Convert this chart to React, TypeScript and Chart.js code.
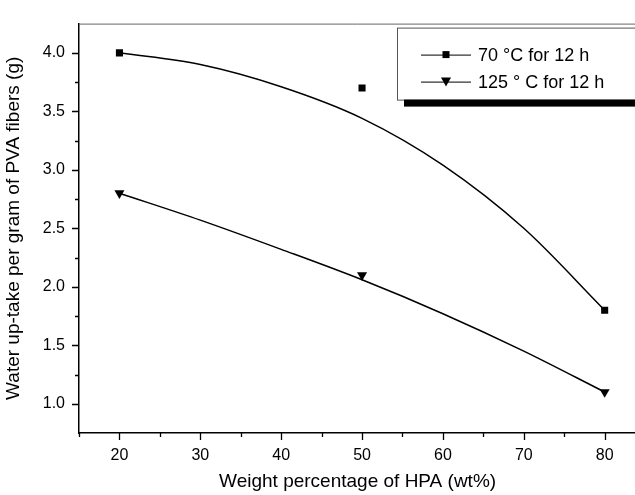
import React, { useEffect, useRef } from "react";
import { Chart, registerables } from "chart.js";

Chart.register(...registerables);

// ---- data ----
const hpaContent = [20, 50, 80];
const uptake70C = [4.0, 3.7, 1.8];
const uptake125C = [2.8, 2.1, 1.1];
const fitX = [20, 30, 40, 50, 60, 70, 80];
const fit70C = [4.0, 3.9, 3.71, 3.44, 3.04, 2.5, 1.8];
const fit125C = [2.8, 2.57, 2.32, 2.06, 1.77, 1.45, 1.1];
const label70 = "70 \u00B0C for 12 h";
const label125 = "125 \u00B0 C for 12 h";
const xTicks = [20, 30, 40, 50, 60, 70, 80];
const xMinorTicks = [15, 25, 35, 45, 55, 65, 75];
const yTicks = [1.0, 1.5, 2.0, 2.5, 3.0, 3.5, 4.0];
const yMinorTicks = [1.25, 1.75, 2.25, 2.75, 3.25, 3.75];
const xTitle = "Weight percentage of HPA (wt%)";
const yTitle = "Water up-take per gram of PVA fibers (g)";

const FONT = "'Liberation Sans', Arial, Helvetica, sans-serif";

function drawMarker(ctx: CanvasRenderingContext2D, style: string, x: number, y: number) {
  ctx.save();
  ctx.fillStyle = "#000";
  if (style === "rect") {
    ctx.fillRect(x - 3.5, y - 3.5, 7, 7);
  } else {
    ctx.beginPath();
    ctx.moveTo(x - 5, y - 4);
    ctx.lineTo(x + 5, y - 4);
    ctx.lineTo(x, y + 5);
    ctx.closePath();
    ctx.fill();
  }
  ctx.restore();
}

const framePlugin = {
  id: "frame",
  afterDraw(chart: any) {
    const { ctx, chartArea } = chart;
    const xs = chart.scales.x;
    const ys = chart.scales.y;
    ctx.save();
    // top frame line
    ctx.strokeStyle = "#666";
    ctx.lineWidth = 1;
    ctx.beginPath();
    ctx.moveTo(chartArea.left, chartArea.top + 0.5);
    ctx.lineTo(chartArea.right, chartArea.top + 0.5);
    ctx.stroke();
    // ticks
    ctx.strokeStyle = "#000";
    ctx.lineWidth = 1.3;
    const b = chartArea.bottom;
    const l = chartArea.left;
    ctx.beginPath();
    xTicks.forEach((v) => {
      const px = Math.round(xs.getPixelForValue(v)) + 0.5;
      ctx.moveTo(px, b);
      ctx.lineTo(px, b + 7);
    });
    xMinorTicks.forEach((v) => {
      const px = Math.round(xs.getPixelForValue(v)) + 0.5;
      ctx.moveTo(px, b);
      ctx.lineTo(px, b + 4);
    });
    yTicks.forEach((v) => {
      const py = Math.round(ys.getPixelForValue(v)) + 0.5;
      ctx.moveTo(l, py);
      ctx.lineTo(l - 7, py);
    });
    yMinorTicks.forEach((v) => {
      const py = Math.round(ys.getPixelForValue(v)) + 0.5;
      ctx.moveTo(l, py);
      ctx.lineTo(l - 4, py);
    });
    ctx.stroke();

    // legend box (positioned relative to the x scale)
    const bx = Math.round(xs.getPixelForValue(54.3));
    const by = chartArea.top + 4;
    const bh = 72;
    ctx.fillStyle = "#fff";
    ctx.fillRect(bx, by, 300, bh);
    ctx.strokeStyle = "#555";
    ctx.lineWidth = 1;
    ctx.strokeRect(bx + 0.5, by + 0.5, 300, bh);
    ctx.fillStyle = "#000";
    ctx.fillRect(bx + 7, by + bh, 300, 7);

    const items = chart.data.datasets.filter((d: any) => d.legend);
    items.forEach((d: any, i: number) => {
      const yy = by + 27 + i * 27;
      ctx.strokeStyle = "#000";
      ctx.lineWidth = 1;
      ctx.beginPath();
      ctx.moveTo(bx + 24, yy + 0.5);
      ctx.lineTo(bx + 74, yy + 0.5);
      ctx.stroke();
      drawMarker(ctx, d.pointStyle, bx + 49, yy);
      ctx.fillStyle = "#000";
      ctx.font = `18px ${FONT}`;
      ctx.textBaseline = "middle";
      ctx.textAlign = "left";
      ctx.fillText(d.label, bx + 81, yy + 1);
    });
    ctx.restore();
  },
};

export default function App() {
  const ref = useRef<HTMLCanvasElement | null>(null);

  useEffect(() => {
    if (!ref.current) return;
    const chart = new Chart(ref.current, {
      type: "line",
      data: {
        datasets: [
          {
            label: "fit70",
            data: fitX.map((x, i) => ({ x, y: fit70C[i] })),
            borderColor: "#000",
            borderWidth: 1.5,
            pointRadius: 0,
            cubicInterpolationMode: "monotone",
            fill: false,
          },
          {
            label: "fit125",
            data: fitX.map((x, i) => ({ x, y: fit125C[i] })),
            borderColor: "#000",
            borderWidth: 1.5,
            pointRadius: 0,
            cubicInterpolationMode: "monotone",
            fill: false,
          },
          {
            label: label70,
            legend: true,
            data: hpaContent.map((x, i) => ({ x, y: uptake70C[i] })),
            showLine: false,
            pointStyle: "rect",
            pointRadius: 5,
            backgroundColor: "#000",
            borderColor: "#000",
            borderWidth: 0,
          } as any,
          {
            label: label125,
            legend: true,
            data: hpaContent.map((x, i) => ({ x, y: uptake125C[i] })),
            showLine: false,
            pointStyle: "triangle",
            pointRotation: 180,
            pointRadius: 5.8,
            backgroundColor: "#000",
            borderColor: "#000",
            borderWidth: 0,
          } as any,
        ],
      },
      options: {
        animation: false,
        responsive: true,
        maintainAspectRatio: false,
        layout: { padding: { top: 12, right: 0, bottom: 0, left: 0 } },
        plugins: {
          legend: { display: false },
          tooltip: { enabled: false },
        },
        scales: {
          x: {
            type: "linear",
            min: 15,
            max: 83.9,
            afterBuildTicks: (s: any) => {
              s.ticks = xTicks.map((v) => ({ value: v }));
            },
            afterFit: (s: any) => {
              s.height = 62;
            },
            grid: { display: false, drawTicks: false },
            border: { display: true, color: "#000", width: 1.5 },
            ticks: {
              color: "#000",
              font: { family: FONT, size: 16 },
              padding: 13,
              maxRotation: 0,
              autoSkip: false,
            },
            title: {
              display: true,
              text: xTitle,
              color: "#000",
              font: { family: FONT, size: 19 },
              padding: { top: 0, bottom: 2 },
            },
          },
          y: {
            type: "linear",
            min: 0.75,
            max: 4.25,
            afterBuildTicks: (s: any) => {
              s.ticks = yTicks.map((v) => ({ value: v }));
            },
            afterFit: (s: any) => {
              s.width = 79;
            },
            grid: { display: false, drawTicks: false },
            border: { display: true, color: "#000", width: 1.5 },
            ticks: {
              color: "#000",
              font: { family: FONT, size: 16 },
              padding: 14,
              autoSkip: false,
              callback: (v: any) => Number(v).toFixed(1),
            },
            title: {
              display: true,
              text: yTitle,
              color: "#000",
              font: { family: FONT, size: 19 },
              padding: { top: 2, bottom: 0 },
            },
          },
        },
      } as any,
      plugins: [framePlugin],
    });
    return () => chart.destroy();
  }, []);

  return (
    <div
      style={{
        position: "absolute",
        left: 0,
        top: 0,
        width: 635,
        height: 495,
        overflow: "hidden",
        background: "#fff",
      }}
    >
      <div style={{ position: "relative", width: 642, height: 495 }}>
        <canvas ref={ref} />
      </div>
    </div>
  );
}
